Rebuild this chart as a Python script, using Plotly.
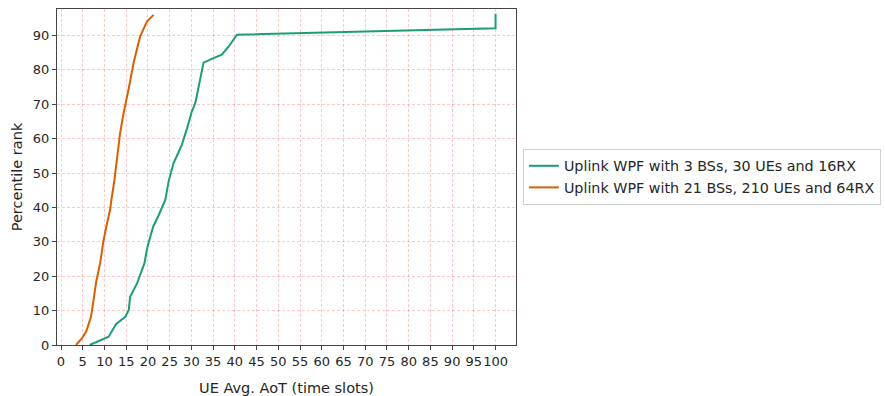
import plotly.graph_objects as go

# Empirical CDF of per-UE average AoT for two uplink WPF deployments
small_label = "Uplink WPF with 3 BSs, 30 UEs and 16RX"
small_aot = [6.6, 10.95, 12.7, 14.8, 15.6, 15.9, 17.5, 19.2, 19.9, 20.9, 21.2, 22.5,
             24.0, 24.8, 25.9, 27.1, 27.8, 29.0, 30.1, 30.9, 31.7, 32.0, 32.4, 32.8,
             35.1, 37.0, 38.6, 40.5, 100.0, 100.0]
small_rank = [0, 2.4, 6.1, 8.2, 10.2, 14.0, 17.9, 23.8, 28.6, 33.5, 34.4, 37.8,
              42.2, 47.8, 52.9, 56.2, 58.2, 63.0, 67.9, 70.3, 75.6, 77.1, 79.5, 82.1,
              83.4, 84.4, 86.8, 90.2, 92.1, 96.3]

large_label = "Uplink WPF with 21 BSs, 210 UEs and 64RX"
large_aot = [3.45, 4.8, 5.8, 6.9, 7.5, 8.1, 9.0, 9.8, 10.6, 11.3, 11.6, 12.3,
             13.6, 14.4, 15.6, 16.7, 18.2, 19.8, 21.3]
large_rank = [0, 1.9, 3.9, 8.2, 13.1, 18.4, 23.8, 30.5, 35.4, 39.3, 42.2, 48.0,
              61.6, 67.4, 74.7, 82.0, 89.7, 94.1, 96.0]

x_ticks = list(range(0, 101, 5))
y_ticks = list(range(0, 91, 10))

GREEN = "#1b9e77"
ORANGE = "#d95f02"
FONT = "DejaVu Sans"

fig = go.Figure()
fig.add_trace(go.Scatter(x=small_aot, y=small_rank, mode="lines", name=small_label,
                         line=dict(color=GREEN, width=2)))
fig.add_trace(go.Scatter(x=large_aot, y=large_rank, mode="lines", name=large_label,
                         line=dict(color=ORANGE, width=2)))

axis_common = dict(
    showline=True, mirror=True, linecolor="#444", linewidth=1.3,
    ticks="outside", ticklen=4, tickcolor="#444", tickwidth=1,
    showgrid=True, gridcolor="rgba(255,0,0,0.22)", gridwidth=1, griddash="3px,2px",
    zeroline=False, automargin=False, tickangle=0,
    tickfont=dict(family=FONT, size=13, color="#262626"),
)

fig.update_xaxes(
    range=[-0.92, 104.7], tickmode="array", tickvals=x_ticks,
    ticktext=[str(v) for v in x_ticks],
    title=dict(text="UE Avg. AoT (time slots)", font=dict(family=FONT, size=14.5, color="#262626"),
               standoff=17),
    **axis_common,
)
fig.update_yaxes(
    range=[0, 97.7], tickmode="array", tickvals=y_ticks,
    ticktext=[str(v) for v in y_ticks],
    title=dict(text="Percentile rank", font=dict(family=FONT, size=14.5, color="#262626"),
               standoff=6),
    **axis_common,
)

fig.update_layout(
    width=885, height=396,
    margin=dict(l=57, r=369, t=9, b=51, autoexpand=False),
    paper_bgcolor="white", plot_bgcolor="white",
    font=dict(family=FONT, color="#262626"),
    legend=dict(
        x=1.015, y=0.5, xanchor="left", yanchor="middle",
        bordercolor="#d0d0d0", borderwidth=1, bgcolor="white",
        font=dict(family=FONT, size=14.3, color="#262626"),
        tracegroupgap=0, itemwidth=30,
    ),
    showlegend=True,
)

fig.write_html("out.html")
